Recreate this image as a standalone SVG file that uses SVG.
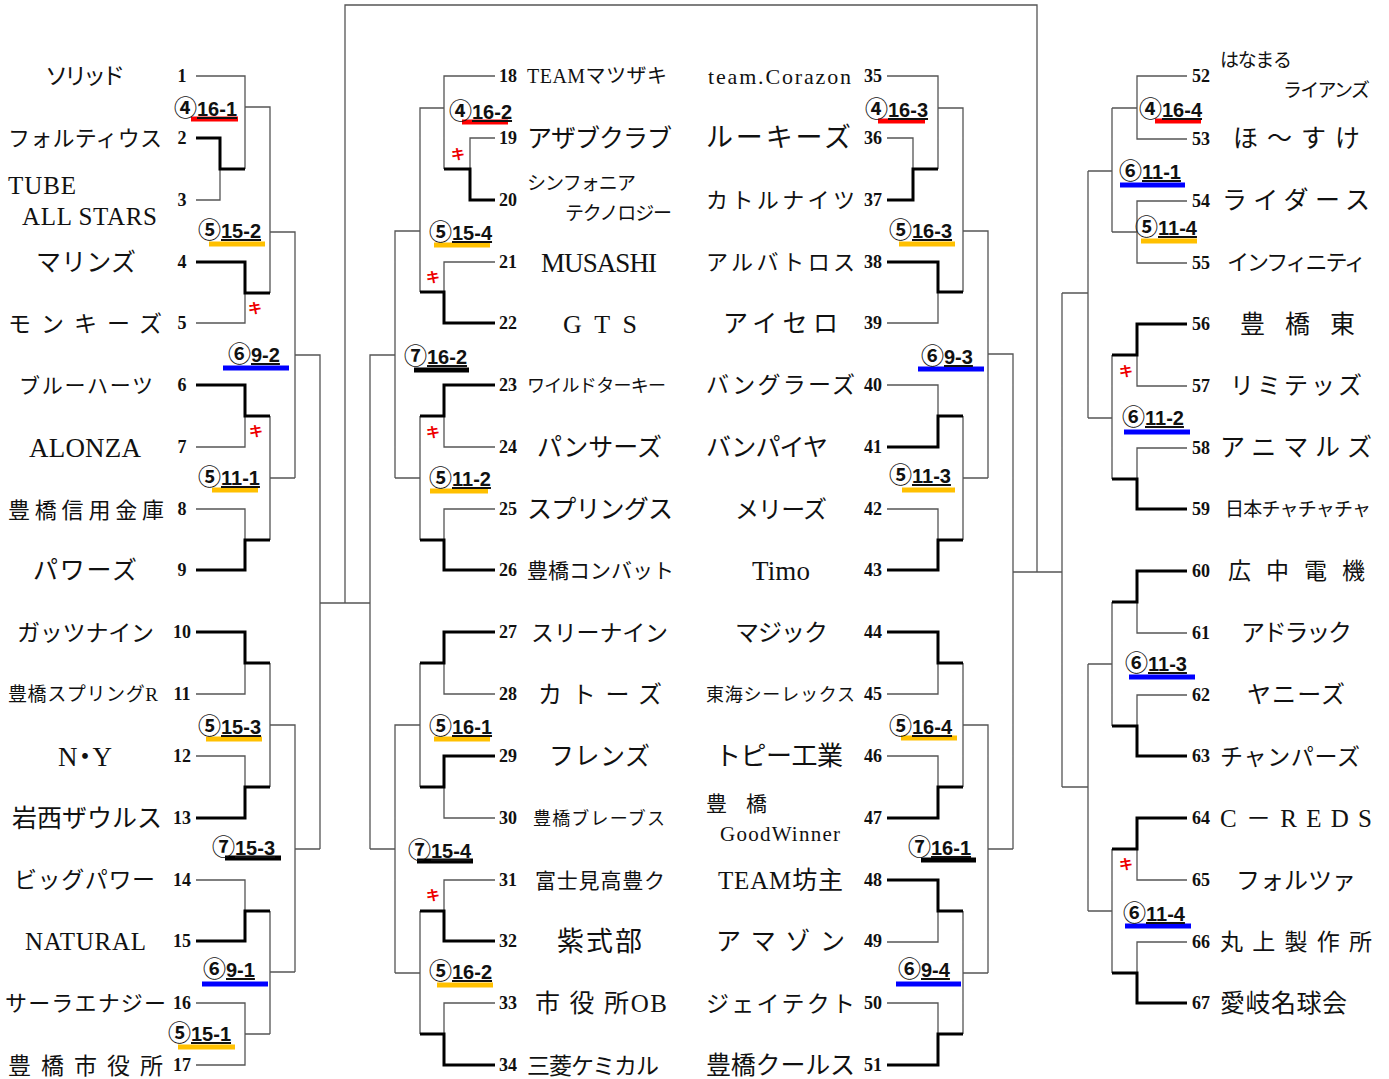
<svg xmlns="http://www.w3.org/2000/svg" width="1389" height="1079" viewBox="0 0 1389 1079">
<style>
.bg{fill:#fff}
.t{fill:none;stroke:#555;stroke-width:1.3}
.k{fill:none;stroke:#000;stroke-width:3}
.nm{font-family:"Liberation Serif","Noto Sans CJK JP",serif;fill:#111}
.no{font-family:"Liberation Serif",serif;font-weight:bold;font-size:18px;fill:#111}
.lb{font-family:"Liberation Sans","Noto Sans CJK JP",sans-serif;font-weight:bold;font-size:20px;fill:#111}
.c{font-family:"Noto Sans CJK JP",sans-serif;font-size:23px;font-weight:bold}
.u{text-decoration:underline}
.ki{font-family:"Noto Sans CJK JP",sans-serif;font-size:14px;font-weight:bold;fill:#e00;text-anchor:middle}
.red{stroke:#ff0000;stroke-width:5}
.org{stroke:#ffc000;stroke-width:5}
.blu{stroke:#0000ff;stroke-width:5}
.blk{stroke:#000;stroke-width:5}
</style>
<rect class="bg" x="0" y="0" width="1389" height="1079"/>

<g id="connectors">
<!-- left column -->
<path class="t" d="M196,76H245V169M196,200H220V169M245,107H270V293M196,323H245V293M270,232H295V478M196,447H245V416M196,509H245V540M270,416V540M270,478H295M295,355H320V849M196,694H245V663M196,756H245V787M270,663V787M270,725H295V972M196,880H245V911M196,1003H245V1065H196M245,1034H270M270,911V1034M270,972H295M295,849H320"/>
<path class="k" d="M196,138H220V169H245M196,262H245V293H270M196,385H245V416H270M196,570H245V540H270M196,632H245V663H270M196,818H245V787H270M196,941H245V911H270"/>
<!-- center frame -->
<path class="t" d="M320,603H370M345,603V5H1037V572"/>
<!-- center-left column -->
<path class="t" d="M495,76H444V169M495,138H470V169M444,108H420V292M495,262H444V292M420,231H395V478M495,447H444V416M495,509H444V540M420,416V540M420,478H395M395,355H370V849M495,694H444V663M495,818H444V787M420,663V787M420,725H395V973M495,880H444V911M495,1003H444V1034M420,911V1034M420,973H395M395,849H370"/>
<path class="k" d="M495,200H470V169H444M495,323H444V292H420M495,385H444V416H420M495,570H444V540H420M495,632H444V663H420M495,756H444V787H420M495,941H444V911H420M495,1065H444V1034H420"/>
<!-- center-right column -->
<path class="t" d="M887,76H938V169M887,138H913V169M938,108H963V292M887,323H938V292M963,231H988V478M887,385H938V416M887,509H938V540M963,416V540M963,478H988M988,354H1013V849M887,694H938V663M887,756H938V787M963,663V787M963,725H988V973M887,942H938V911M887,1003H938V1034M963,911V1034M963,973H988M988,849H1013M1013,572H1062"/>
<path class="k" d="M887,200H913V169H938M887,262H938V292H963M887,447H938V416H963M887,570H938V540H963M887,632H938V663H963M887,818H938V787H963M887,880H938V911H963M887,1065H938V1034H963"/>
<!-- right column -->
<path class="t" d="M1187,76H1137V139H1187M1137,108H1112M1187,201H1137V263H1187M1137,232H1112M1112,108V232M1112,171H1088M1187,386H1137V355M1187,448H1137V479M1112,355V479M1112,418H1088M1088,171V418M1088,293H1062M1187,633H1137V602M1187,695H1137V726M1112,602V726M1112,664H1088M1187,880H1137V849M1187,942H1137V973M1112,849V973M1112,911H1088M1088,664V911M1088,787H1062M1062,293V787"/>
<path class="k" d="M1187,324H1137V355H1112M1187,509H1137V479H1112M1187,571H1137V602H1112M1187,756H1137V726H1112M1187,818H1137V849H1112M1187,1003H1137V973H1112"/>
</g>

<g id="marks">
<text class="ki" x="255" y="313">キ</text>
<text class="ki" x="256" y="436">キ</text>
<text class="ki" x="458" y="159">キ</text>
<text class="ki" x="433" y="282">キ</text>
<text class="ki" x="433" y="437">キ</text>
<text class="ki" x="433" y="900">キ</text>
<text class="ki" x="1126" y="376">キ</text>
<text class="ki" x="1126" y="869">キ</text>
</g>

<g id="match-labels">
<g id="m-4-16-1"><line class="red" x1="191" y1="119" x2="238" y2="119"/><text class="lb" x="174" y="116"><tspan class="c">④</tspan><tspan class="u">16-1</tspan></text></g>
<g id="m-5-15-2"><line class="org" x1="209" y1="244" x2="265" y2="244"/><text class="lb" x="198" y="238"><tspan class="c">⑤</tspan><tspan class="u">15-2</tspan></text></g>
<g id="m-6-9-2"><line class="blu" x1="223" y1="368" x2="289" y2="368"/><text class="lb" x="228" y="362"><tspan class="c">⑥</tspan><tspan class="u">9-2</tspan></text></g>
<g id="m-5-11-1"><line class="org" x1="212" y1="490" x2="258" y2="490"/><text class="lb" x="198" y="485"><tspan class="c">⑤</tspan><tspan class="u">11-1</tspan></text></g>
<g id="m-5-15-3"><line class="org" x1="206" y1="739" x2="262" y2="739"/><text class="lb" x="198" y="734"><tspan class="c">⑤</tspan><tspan class="u">15-3</tspan></text></g>
<g id="m-7-15-3"><line class="blk" x1="225" y1="858" x2="281" y2="858"/><text class="lb" x="212" y="855"><tspan class="c">⑦</tspan><tspan class="u">15-3</tspan></text></g>
<g id="m-6-9-1"><line class="blu" x1="202" y1="984" x2="268" y2="984"/><text class="lb" x="203" y="977"><tspan class="c">⑥</tspan><tspan class="u">9-1</tspan></text></g>
<g id="m-5-15-1"><line class="org" x1="178" y1="1047" x2="235" y2="1047"/><text class="lb" x="168" y="1041"><tspan class="c">⑤</tspan><tspan class="u">15-1</tspan></text></g>

<g id="m-4-16-2"><line class="red" x1="462" y1="122" x2="508" y2="122"/><text class="lb" x="449" y="119"><tspan class="c">④</tspan><tspan class="u">16-2</tspan></text></g>
<g id="m-5-15-4"><line class="org" x1="434" y1="245" x2="490" y2="245"/><text class="lb" x="429" y="240"><tspan class="c">⑤</tspan><tspan class="u">15-4</tspan></text></g>
<g id="m-7-16-2"><line class="blk" x1="414" y1="370" x2="469" y2="370"/><text class="lb" x="404" y="364"><tspan class="c">⑦</tspan><tspan class="u">16-2</tspan></text></g>
<g id="m-5-11-2"><line class="org" x1="430" y1="491" x2="488" y2="491"/><text class="lb" x="429" y="486"><tspan class="c">⑤</tspan><tspan class="u">11-2</tspan></text></g>
<g id="m-5-16-1"><line class="org" x1="434" y1="739" x2="490" y2="739"/><text class="lb" x="429" y="734"><tspan class="c">⑤</tspan><tspan class="u">16-1</tspan></text></g>
<g id="m-7-15-4"><line class="blk" x1="417" y1="861" x2="473" y2="861"/><text class="lb" x="408" y="858"><tspan class="c">⑦</tspan><tspan class="u">15-4</tspan></text></g>
<g id="m-5-16-2"><line class="org" x1="437" y1="985" x2="493" y2="985"/><text class="lb" x="429" y="979"><tspan class="c">⑤</tspan><tspan class="u">16-2</tspan></text></g>

<g id="m-4-16-3"><line class="red" x1="878" y1="121" x2="925" y2="121"/><text class="lb" x="865" y="117"><tspan class="c">④</tspan><tspan class="u">16-3</tspan></text></g>
<g id="m-5-16-3"><line class="org" x1="899" y1="244" x2="955" y2="244"/><text class="lb" x="889" y="238"><tspan class="c">⑤</tspan><tspan class="u">16-3</tspan></text></g>
<g id="m-6-9-3"><line class="blu" x1="918" y1="369" x2="984" y2="369"/><text class="lb" x="921" y="364"><tspan class="c">⑥</tspan><tspan class="u">9-3</tspan></text></g>
<g id="m-5-11-3"><line class="org" x1="902" y1="490" x2="955" y2="490"/><text class="lb" x="889" y="483"><tspan class="c">⑤</tspan><tspan class="u">11-3</tspan></text></g>
<g id="m-5-16-4"><line class="org" x1="901" y1="738" x2="957" y2="738"/><text class="lb" x="889" y="734"><tspan class="c">⑤</tspan><tspan class="u">16-4</tspan></text></g>
<g id="m-7-16-1"><line class="blk" x1="921" y1="860" x2="976" y2="860"/><text class="lb" x="908" y="855"><tspan class="c">⑦</tspan><tspan class="u">16-1</tspan></text></g>
<g id="m-6-9-4"><line class="blu" x1="896" y1="984" x2="961" y2="984"/><text class="lb" x="898" y="977"><tspan class="c">⑥</tspan><tspan class="u">9-4</tspan></text></g>

<g id="m-4-16-4"><line class="red" x1="1155" y1="121" x2="1201" y2="121"/><text class="lb" x="1139" y="117"><tspan class="c">④</tspan><tspan class="u">16-4</tspan></text></g>
<g id="m-6-11-1"><line class="blu" x1="1120" y1="185" x2="1185" y2="185"/><text class="lb" x="1119" y="179"><tspan class="c">⑥</tspan><tspan class="u">11-1</tspan></text></g>
<g id="m-5-11-4"><line class="org" x1="1141" y1="241" x2="1197" y2="241"/><text class="lb" x="1135" y="235"><tspan class="c">⑤</tspan><tspan class="u">11-4</tspan></text></g>
<g id="m-6-11-2"><line class="blu" x1="1124" y1="432" x2="1190" y2="432"/><text class="lb" x="1122" y="425"><tspan class="c">⑥</tspan><tspan class="u">11-2</tspan></text></g>
<g id="m-6-11-3"><line class="blu" x1="1129" y1="677" x2="1195" y2="677"/><text class="lb" x="1125" y="671"><tspan class="c">⑥</tspan><tspan class="u">11-3</tspan></text></g>
<g id="m-6-11-4"><line class="blu" x1="1125" y1="926" x2="1191" y2="926"/><text class="lb" x="1123" y="921"><tspan class="c">⑥</tspan><tspan class="u">11-4</tspan></text></g>
</g>

<g id="teams-left">
<g id="t1"><text class="nm" x="45" y="84" font-size="23" textLength="80">ソリッド</text><text class="no" x="182" y="82" text-anchor="middle">1</text></g>
<g id="t2"><text class="nm" x="8" y="146" font-size="22" textLength="154">フォルティウス</text><text class="no" x="182" y="144" text-anchor="middle">2</text></g>
<g id="t3"><text class="nm" x="8" y="194" font-size="25" textLength="68">TUBE</text><text class="nm" x="22" y="225" font-size="25" textLength="135">ALL STARS</text><text class="no" x="182" y="206" text-anchor="middle">3</text></g>
<g id="t4"><text class="nm" x="36" y="271" font-size="25" textLength="100">マリンズ</text><text class="no" x="182" y="268" text-anchor="middle">4</text></g>
<g id="t5"><text class="nm" x="8" y="332" font-size="23" textLength="154">モンキーズ</text><text class="no" x="182" y="329" text-anchor="middle">5</text></g>
<g id="t6"><text class="nm" x="19" y="393" font-size="21" textLength="134">ブルーハーツ</text><text class="no" x="182" y="391" text-anchor="middle">6</text></g>
<g id="t7"><text class="nm" x="29" y="457" font-size="27" textLength="112">ALONZA</text><text class="no" x="182" y="453" text-anchor="middle">7</text></g>
<g id="t8"><text class="nm" x="8" y="518" font-size="22" textLength="156">豊橋信用金庫</text><text class="no" x="182" y="515" text-anchor="middle">8</text></g>
<g id="t9"><text class="nm" x="33" y="579" font-size="25" textLength="104">パワーズ</text><text class="no" x="182" y="576" text-anchor="middle">9</text></g>
<g id="t10"><text class="nm" x="17" y="641" font-size="23" textLength="137">ガッツナイン</text><text class="no" x="182" y="638" text-anchor="middle">10</text></g>
<g id="t11"><text class="nm" x="8" y="701" font-size="19" textLength="150">豊橋スプリングR</text><text class="no" x="182" y="700" text-anchor="middle">11</text></g>
<g id="t12"><text class="nm" x="58" y="766" font-size="27" textLength="54">N・Y</text><text class="no" x="182" y="762" text-anchor="middle">12</text></g>
<g id="t13"><text class="nm" x="12" y="827" font-size="25" textLength="150">岩西ザウルス</text><text class="no" x="182" y="824" text-anchor="middle">13</text></g>
<g id="t14"><text class="nm" x="14" y="888" font-size="23" textLength="141">ビッグパワー</text><text class="no" x="182" y="886" text-anchor="middle">14</text></g>
<g id="t15"><text class="nm" x="25" y="950" font-size="25" textLength="121">NATURAL</text><text class="no" x="182" y="947" text-anchor="middle">15</text></g>
<g id="t16"><text class="nm" x="5" y="1011" font-size="22" textLength="161">サーラエナジー</text><text class="no" x="182" y="1009" text-anchor="middle">16</text></g>
<g id="t17"><text class="nm" x="8" y="1074" font-size="23" textLength="155">豊 橋 市 役 所</text><text class="no" x="182" y="1071" text-anchor="middle">17</text></g>
</g>

<g id="teams-center-left">
<g id="t18"><text class="no" x="499" y="82">18</text><text class="nm" x="527" y="83" font-size="20" textLength="140">TEAMマツザキ</text></g>
<g id="t19"><text class="no" x="499" y="144">19</text><text class="nm" x="527" y="147" font-size="25" textLength="145">アザブクラブ</text></g>
<g id="t20"><text class="no" x="499" y="206">20</text><text class="nm" x="527" y="190" font-size="19" textLength="109">シンフォニア</text><text class="nm" x="565" y="220" font-size="19" textLength="107">テクノロジー</text></g>
<g id="t21"><text class="no" x="499" y="268">21</text><text class="nm" x="541" y="272" font-size="27" textLength="116">MUSASHI</text></g>
<g id="t22"><text class="no" x="499" y="329">22</text><text class="nm" x="563" y="333" font-size="26" textLength="74">G T S</text></g>
<g id="t23"><text class="no" x="499" y="391">23</text><text class="nm" x="527" y="392" font-size="18" textLength="139">ワイルドターキー</text></g>
<g id="t24"><text class="no" x="499" y="453">24</text><text class="nm" x="537" y="456" font-size="25" textLength="125">パンサーズ</text></g>
<g id="t25"><text class="no" x="499" y="515">25</text><text class="nm" x="527" y="518" font-size="25" textLength="146">スプリングス</text></g>
<g id="t26"><text class="no" x="499" y="576">26</text><text class="nm" x="527" y="578" font-size="21" textLength="147">豊橋コンバット</text></g>
<g id="t27"><text class="no" x="499" y="638">27</text><text class="nm" x="531" y="641" font-size="23" textLength="137">スリーナイン</text></g>
<g id="t28"><text class="no" x="499" y="700">28</text><text class="nm" x="538" y="703" font-size="24" textLength="124">カトーズ</text></g>
<g id="t29"><text class="no" x="499" y="762">29</text><text class="nm" x="549" y="765" font-size="25" textLength="101">フレンズ</text></g>
<g id="t30"><text class="no" x="499" y="824">30</text><text class="nm" x="533" y="825" font-size="18" textLength="132">豊橋ブレーブス</text></g>
<g id="t31"><text class="no" x="499" y="886">31</text><text class="nm" x="535" y="888" font-size="21" textLength="130">富士見高豊ク</text></g>
<g id="t32"><text class="no" x="499" y="947">32</text><text class="nm" x="557" y="951" font-size="27" textLength="85">紫式部</text></g>
<g id="t33"><text class="no" x="499" y="1009">33</text><text class="nm" x="535" y="1012" font-size="25" textLength="132">市 役 所OB</text></g>
<g id="t34"><text class="no" x="499" y="1071">34</text><text class="nm" x="527" y="1074" font-size="23" textLength="132">三菱ケミカル</text></g>
</g>

<g id="teams-center-right">
<g id="t35"><text class="nm" x="708" y="84" font-size="22" textLength="143">team.Corazon</text><text class="no" x="882" y="82" text-anchor="end">35</text></g>
<g id="t36"><text class="nm" x="706" y="147" font-size="27" textLength="145">ルーキーズ</text><text class="no" x="882" y="144" text-anchor="end">36</text></g>
<g id="t37"><text class="nm" x="706" y="208" font-size="22" textLength="149">カトルナイツ</text><text class="no" x="882" y="206" text-anchor="end">37</text></g>
<g id="t38"><text class="nm" x="706" y="270" font-size="22" textLength="149">アルバトロス</text><text class="no" x="882" y="268" text-anchor="end">38</text></g>
<g id="t39"><text class="nm" x="723" y="332" font-size="25" textLength="115">アイセロ</text><text class="no" x="882" y="329" text-anchor="end">39</text></g>
<g id="t40"><text class="nm" x="706" y="393" font-size="23" textLength="149">バングラーズ</text><text class="no" x="882" y="391" text-anchor="end">40</text></g>
<g id="t41"><text class="nm" x="706" y="456" font-size="25" textLength="122">バンパイヤ</text><text class="no" x="882" y="453" text-anchor="end">41</text></g>
<g id="t42"><text class="nm" x="735" y="518" font-size="24" textLength="92">メリーズ</text><text class="no" x="882" y="515" text-anchor="end">42</text></g>
<g id="t43"><text class="nm" x="752" y="580" font-size="27" textLength="58">Timo</text><text class="no" x="882" y="576" text-anchor="end">43</text></g>
<g id="t44"><text class="nm" x="735" y="641" font-size="24" textLength="93">マジック</text><text class="no" x="882" y="638" text-anchor="end">44</text></g>
<g id="t45"><text class="nm" x="706" y="701" font-size="18" textLength="149">東海シーレックス</text><text class="no" x="882" y="700" text-anchor="end">45</text></g>
<g id="t46"><text class="nm" x="715" y="765" font-size="26" textLength="128">トピー工業</text><text class="no" x="882" y="762" text-anchor="end">46</text></g>
<g id="t47"><text class="nm" x="706" y="811" font-size="21" textLength="61">豊 橋</text><text class="nm" x="720" y="841" font-size="21" textLength="120">GoodWinner</text><text class="no" x="882" y="824" text-anchor="end">47</text></g>
<g id="t48"><text class="nm" x="718" y="889" font-size="25" textLength="125">TEAM坊主</text><text class="no" x="882" y="886" text-anchor="end">48</text></g>
<g id="t49"><text class="nm" x="716" y="950" font-size="25" textLength="129">ア マ ゾ ン</text><text class="no" x="882" y="947" text-anchor="end">49</text></g>
<g id="t50"><text class="nm" x="706" y="1012" font-size="23" textLength="149">ジェイテクト</text><text class="no" x="882" y="1009" text-anchor="end">50</text></g>
<g id="t51"><text class="nm" x="706" y="1074" font-size="25" textLength="149">豊橋クールス</text><text class="no" x="882" y="1071" text-anchor="end">51</text></g>
</g>

<g id="teams-right">
<g id="t52"><text class="no" x="1192" y="82">52</text><text class="nm" x="1220" y="67" font-size="19" textLength="72">はなまる</text><text class="nm" x="1283" y="97" font-size="19" textLength="87">ライアンズ</text></g>
<g id="t53"><text class="no" x="1192" y="145">53</text><text class="nm" x="1233" y="147" font-size="25" textLength="127">ほ ～ す け</text></g>
<g id="t54"><text class="no" x="1192" y="207">54</text><text class="nm" x="1222" y="209" font-size="25" textLength="148">ライダース</text></g>
<g id="t55"><text class="no" x="1192" y="269">55</text><text class="nm" x="1227" y="270" font-size="22" textLength="139">インフィニティ</text></g>
<g id="t56"><text class="no" x="1192" y="330">56</text><text class="nm" x="1240" y="333" font-size="25" textLength="115">豊 橋 東</text></g>
<g id="t57"><text class="no" x="1192" y="392">57</text><text class="nm" x="1230" y="394" font-size="24" textLength="132">リミテッズ</text></g>
<g id="t58"><text class="no" x="1192" y="454">58</text><text class="nm" x="1220" y="456" font-size="25" textLength="152">アニマルズ</text></g>
<g id="t59"><text class="no" x="1192" y="515">59</text><text class="nm" x="1225" y="516" font-size="19" textLength="146">日本チャチャチャ</text></g>
<g id="t60"><text class="no" x="1192" y="577">60</text><text class="nm" x="1228" y="579" font-size="23" textLength="137">広 中 電 機</text></g>
<g id="t61"><text class="no" x="1192" y="639">61</text><text class="nm" x="1241" y="641" font-size="24" textLength="111">アドラック</text></g>
<g id="t62"><text class="no" x="1192" y="701">62</text><text class="nm" x="1247" y="703" font-size="24" textLength="98">ヤニーズ</text></g>
<g id="t63"><text class="no" x="1192" y="762">63</text><text class="nm" x="1220" y="765" font-size="23" textLength="140">チャンパーズ</text></g>
<g id="t64"><text class="no" x="1192" y="824">64</text><text class="nm" x="1220" y="827" font-size="25" textLength="152">C－REDS</text></g>
<g id="t65"><text class="no" x="1192" y="886">65</text><text class="nm" x="1236" y="889" font-size="24" textLength="120">フォルツァ</text></g>
<g id="t66"><text class="no" x="1192" y="948">66</text><text class="nm" x="1220" y="950" font-size="23" textLength="152">丸 上 製 作 所</text></g>
<g id="t67"><text class="no" x="1192" y="1009">67</text><text class="nm" x="1220" y="1012" font-size="25" textLength="127">愛岐名球会</text></g>
</g>
</svg>
